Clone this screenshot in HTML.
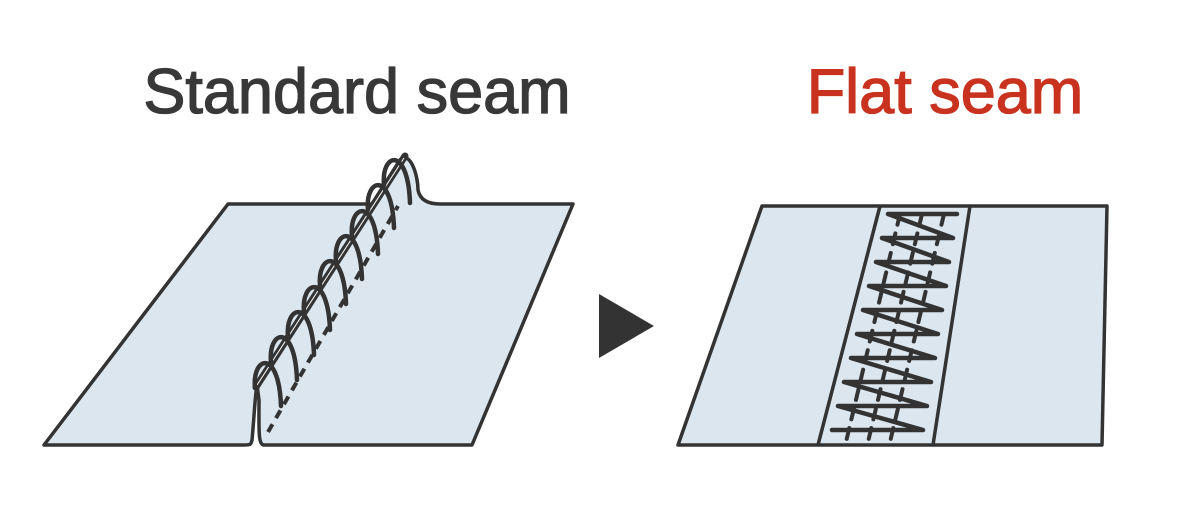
<!DOCTYPE html>
<html><head><meta charset="utf-8"><style>
html,body{margin:0;padding:0;background:#fff;width:1200px;height:510px;overflow:hidden}
svg{display:block}
</style></head><body>
<svg width="1200" height="510" viewBox="0 0 1200 510" xmlns="http://www.w3.org/2000/svg">
<text x="357" y="113" text-anchor="middle" font-family="Liberation Sans, sans-serif" font-size="63" fill="#383838" stroke="#383838" stroke-width="1.3">Standard seam</text>
<text x="945" y="113" text-anchor="middle" font-family="Liberation Sans, sans-serif" font-size="63" fill="#c8321e" stroke="#c8321e" stroke-width="1.3">Flat seam</text>

<g stroke="#333" stroke-width="3.5" stroke-linejoin="round" stroke-linecap="round" fill="#dce6ee">
<path d="M44,445 L228,204 L372,204 L400,160 C410,150 418,175 418,190 C420,200 428,204 440,204 L573,204 L472,445 L264,445 C258,445 259,430 259,400 L257,385 C255,395 254,420 252,440 C251,445 250,445 244,445 Z"/>
</g>
<line x1="256" y1="387" x2="405" y2="156" stroke="#333" stroke-width="7" stroke-linecap="round"/>
<line x1="257" y1="385" x2="404" y2="158" stroke="#fff" stroke-width="1"/>
<line x1="268" y1="432" x2="398" y2="206" stroke="#333" stroke-width="4" stroke-dasharray="9,7"/>
<g fill="none" stroke="#333" stroke-width="4.5" stroke-linecap="round">
<path d="M255,388 c-3,-32 24,-40 26,18"/>
<path d="M271,362 c-3,-32 24,-40 26,18"/>
<path d="M288,337 c-3,-32 24,-40 26,18"/>
<path d="M304,312 c-3,-32 24,-40 26,18"/>
<path d="M320,286 c-3,-32 24,-40 26,18"/>
<path d="M336,261 c-3,-32 24,-40 26,18"/>
<path d="M352,236 c-3,-32 24,-40 26,18"/>
<path d="M368,210 c-3,-32 24,-40 26,18"/>
<path d="M384,185 c-3,-32 24,-40 26,18"/>
</g>

<polygon points="599,294 654,326 599,358" fill="#333"/>

<polygon points="762,206 1107,206 1102,445 678,445" fill="#dce6ee" stroke="#333" stroke-width="3.5" stroke-linejoin="round"/>
<line x1="880" y1="206" x2="818" y2="445" stroke="#333" stroke-width="3.5"/>
<line x1="970" y1="206" x2="933" y2="445" stroke="#333" stroke-width="3.5"/>
<g stroke="#333" stroke-width="4" stroke-dasharray="11,9" stroke-linecap="round">
<line x1="900" y1="214" x2="846" y2="442"/>
<line x1="922" y1="214" x2="868" y2="442"/>
<line x1="944" y1="214" x2="890" y2="442"/>
</g>
<polyline fill="none" stroke="#333" stroke-width="4.5" stroke-linejoin="round" stroke-linecap="round"
points="957,214 888,214 953,238 882,238 949,262 876,262 946,286 869,286 942,310 863,310 938,334 857,334 935,358 851,358 931,382 844,382 927,406 838,406 923,430 832,430"/>
</svg>
</body></html>
